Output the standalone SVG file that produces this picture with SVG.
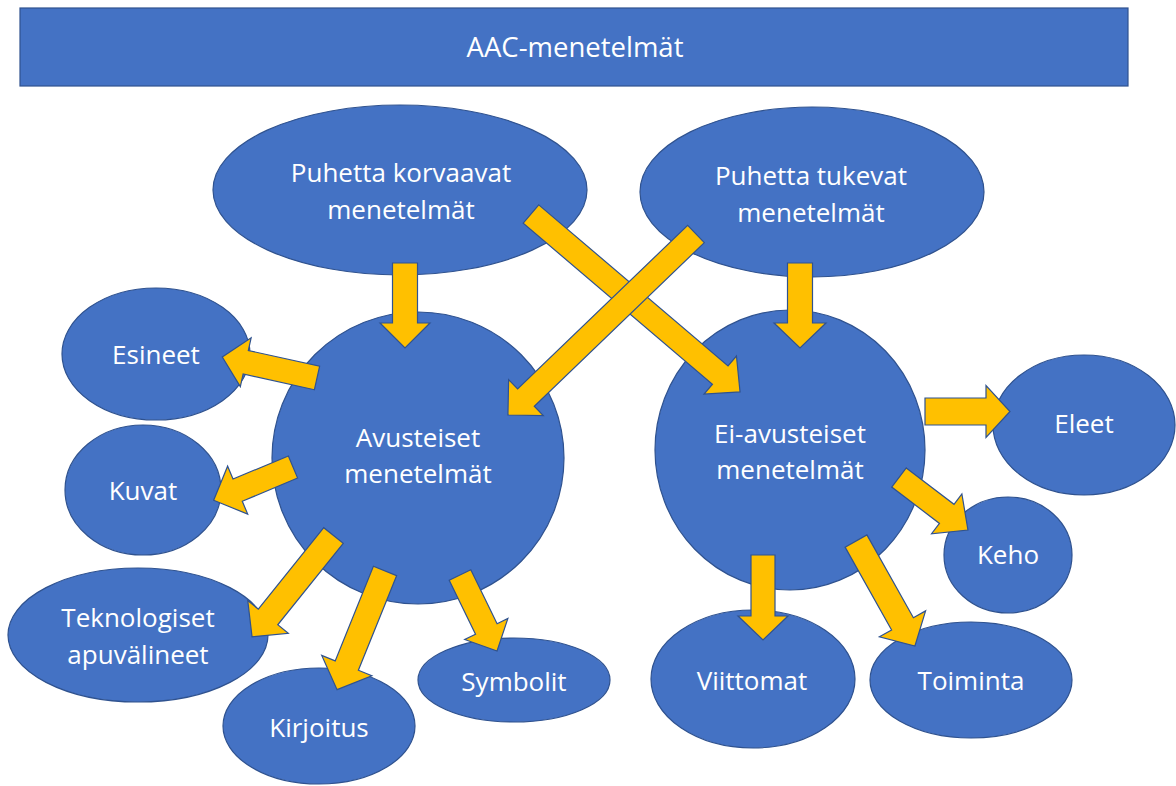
<svg xmlns="http://www.w3.org/2000/svg" width="1176" height="786" viewBox="0 0 1176 786">
<style>
.n{fill:#4472C4;stroke:#2F528F;stroke-width:1.2}
.a{fill:#FFC000;stroke:#2F528F;stroke-width:1.2;stroke-linejoin:miter}
text{font-family:"Open Sans","Liberation Sans",sans-serif;font-size:26px;fill:#FFFFFF;text-anchor:middle}
.t{font-size:27.5px}
</style>
<rect width="1176" height="786" fill="#FFFFFF"/>
<g id="title"><rect class="n" x="20" y="8" width="1108" height="78"/><text class="t" x="575" y="57">AAC-menetelmät</text></g>
<g id="korvaavat"><ellipse class="n" cx="400" cy="190" rx="187" ry="85"/><text x="401" y="182">Puhetta korvaavat</text><text x="401" y="219">menetelmät</text></g>
<g id="tukevat"><ellipse class="n" cx="812" cy="192" rx="172" ry="85"/><text x="811" y="185">Puhetta tukevat</text><text x="811" y="222">menetelmät</text></g>
<g id="avusteiset"><ellipse class="n" cx="418" cy="458" rx="146" ry="146"/><text x="418" y="447">Avusteiset</text><text x="418" y="483">menetelmät</text></g>
<g id="eiavusteiset"><ellipse class="n" cx="790" cy="450" rx="135" ry="140"/><text x="790" y="443">Ei-avusteiset</text><text x="790" y="479">menetelmät</text></g>
<g id="esineet"><ellipse class="n" cx="156" cy="354" rx="94" ry="66"/><text x="156" y="364">Esineet</text></g>
<g id="kuvat"><ellipse class="n" cx="143" cy="490" rx="78" ry="65"/><text x="143" y="500">Kuvat</text></g>
<g id="teknologiset"><ellipse class="n" cx="138" cy="635" rx="130" ry="67"/><text x="138" y="627">Teknologiset</text><text x="138" y="664">apuvälineet</text></g>
<g id="kirjoitus"><ellipse class="n" cx="319" cy="726" rx="96" ry="58"/><text x="319" y="737">Kirjoitus</text></g>
<g id="symbolit"><ellipse class="n" cx="514" cy="680" rx="96" ry="42"/><text x="514" y="691">Symbolit</text></g>
<g id="viittomat"><ellipse class="n" cx="753" cy="679" rx="102" ry="69"/><text x="752" y="690">Viittomat</text></g>
<g id="toiminta"><ellipse class="n" cx="971" cy="680" rx="101" ry="58"/><text x="971" y="690">Toiminta</text></g>
<g id="eleet"><ellipse class="n" cx="1084" cy="425" rx="91" ry="70"/><text x="1084" y="433">Eleet</text></g>
<g id="keho"><ellipse class="n" cx="1008" cy="555" rx="64" ry="58"/><text x="1008" y="564">Keho</text></g>
<g id="connectors">
<path class="a" transform="translate(405,263) rotate(90)" d="M0,-12.5 L60,-12.5 L60,-25 L85,0 L60,25 L60,12.5 L0,12.5 Z"/>
<path class="a" transform="translate(800,263) rotate(90)" d="M0,-12.5 L60,-12.5 L60,-26 L85,0 L60,26 L60,12.5 L0,12.5 Z"/>
<path class="a" transform="translate(531,214) rotate(40.4)" d="M0,-12 L248.5,-12 L248.5,-25 L274.5,0 L248.5,25 L248.5,12 L0,12 Z"/>
<path class="a" transform="translate(696,234) rotate(136.1)" d="M0,-12 L236,-12 L236,-25 L261,0 L236,25 L236,12 L0,12 Z"/>
<path class="a" transform="translate(317,378) rotate(192.5)" d="M0,-12 L73,-12 L73,-25 L97,0 L73,25 L73,12 L0,12 Z"/>
<path class="a" transform="translate(293,467) rotate(157.3)" d="M0,-12 L60,-12 L60,-26 L86,0 L60,26 L60,12 L0,12 Z"/>
<path class="a" transform="translate(333.5,535.5) rotate(128.8)" d="M0,-12.5 L104.5,-12.5 L104.5,-26 L130,0 L104.5,26 L104.5,12.5 L0,12.5 Z"/>
<path class="a" transform="translate(385,571) rotate(112)" d="M0,-12.5 L102,-12.5 L102,-27 L128,0 L102,27 L102,12.5 L0,12.5 Z"/>
<path class="a" transform="translate(460,575) rotate(64)" d="M0,-12 L60,-12 L60,-24 L84.5,0 L60,24 L60,12 L0,12 Z"/>
<path class="a" transform="translate(925,411.5) rotate(0)" d="M0,-13.5 L61,-13.5 L61,-26 L85,0 L61,26 L61,13.5 L0,13.5 Z"/>
<path class="a" transform="translate(899,477.5) rotate(37.3)" d="M0,-12 L60,-12 L60,-25 L86.7,0 L60,25 L60,12 L0,12 Z"/>
<path class="a" transform="translate(763,555) rotate(90)" d="M0,-12 L61,-12 L61,-25 L85,0 L61,25 L61,12 L0,12 Z"/>
<path class="a" transform="translate(856,541) rotate(60.7)" d="M0,-12.5 L95,-12.5 L95,-26.5 L120.4,0 L95,26.5 L95,12.5 L0,12.5 Z"/>
</g>
</svg>
